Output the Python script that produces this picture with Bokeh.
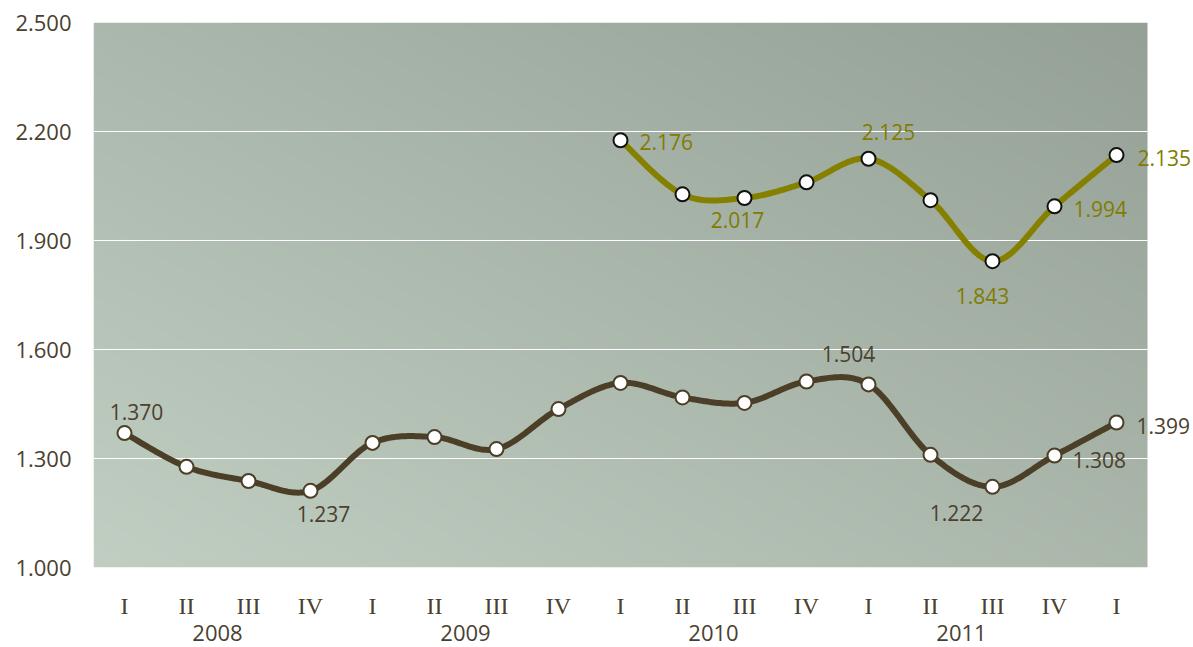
import numpy as np
from bokeh.plotting import figure
from bokeh.models import LinearAxis, FixedTicker, Range1d, Label
from bokeh.embed import file_html
from bokeh.resources import INLINE

# ---------------- data ----------------
quarters = ["I", "II", "III", "IV", "I", "II", "III", "IV", "I", "II", "III", "IV",
            "I", "II", "III", "IV", "I"]
years = ["2008", "2009", "2010", "2011"]
dark_values = [1370, 1277, 1238, 1211, 1343, 1359, 1326, 1436, 1508, 1468, 1453, 1512,
               1504, 1310, 1222, 1308, 1399]
olive_start = 8
olive_values = [2176, 2027, 2017, 2060, 2125, 2011, 1843, 1994, 2135]
y_ticks = [1000, 1300, 1600, 1900, 2200, 2500]
y_tick_labels = ["1.000", "1.300", "1.600", "1.900", "2.200", "2.500"]
dark_label_idx = [0, 3, 12, 14, 15, 16]
dark_label_text = ["1.370", "1.237", "1.504", "1.222", "1.308", "1.399"]
olive_label_idx = [8, 10, 12, 14, 15, 16]
olive_label_text = ["2.176", "2.017", "2.125", "1.843", "1.994", "2.135"]

# ---------------- styles / layout ----------------
DARK = "#4b3f27"
OLIVE = "#858000"
TEXT_DARK = "#4a4030"
TEXT_OLIVE = "#807c00"
SANS = "Open Sans"
SERIF = "Liberation Serif"
W_FIG, H_FIG = 1193, 647
LEFT, TOP, BOTTOM = 93, 22, 80
STEP_PX = 62.0  # pixel width of one category
# label offsets (screen px, +down) and alignment
dark_label_style = [(12, -21, "center"), (13, 23, "center"), (-20, -30, "center"),
                    (-36, 26, "center"), (18, 4, "left"), (20, 3, "left")]
olive_label_style = [(19, 2, "left"), (-7, 22, "center"), (20, -27, "center"),
                     (-10, 35, "center"), (19, 3, "left"), (21, 3, "left")]


def smooth(xs, ys, n=30):
    pts = np.column_stack([xs, ys]).astype(float)
    P = np.vstack([pts[0], pts, pts[-1]])
    out = []
    t = np.linspace(0, 1, n, endpoint=False)[:, None]
    for i in range(1, len(P) - 2):
        p0, p1, p2, p3 = P[i - 1], P[i], P[i + 1], P[i + 2]
        seg = 0.5 * (2 * p1 + (-p0 + p2) * t + (2 * p0 - 5 * p1 + 4 * p2 - p3) * t ** 2
                     + (-p0 + 3 * p1 - 3 * p2 + p3) * t ** 3)
        out.append(seg)
    out.append(pts[-1:])
    a = np.vstack(out)
    return a[:, 0], a[:, 1]


n = len(quarters)
x_all = np.arange(n)
x_olive = np.arange(olive_start, olive_start + len(olive_values))
x_lo, x_hi = -0.5, n - 0.5
x_end = x_lo + (W_FIG - LEFT) / STEP_PX  # frame runs to the right edge so labels are not clipped

p = figure(width=W_FIG, height=H_FIG, output_backend="svg", toolbar_location=None,
           x_range=Range1d(x_lo, x_end), y_range=Range1d(y_ticks[0], y_ticks[-1]),
           min_border_left=LEFT, min_border_right=0, min_border_top=TOP,
           min_border_bottom=BOTTOM)
p.outline_line_color = None
p.border_fill_color = "white"
p.background_fill_color = "white"

# gradient background of the plotting area
H, W = 120, 240
v = np.linspace(0, 1, H)[:, None]
u = np.linspace(0, 1, W)[None, :]
bl = np.array([193, 206, 194], float)
dx = np.array([-22, -23, -23], float)
dy = np.array([-22, -22, -21], float)
rgb = bl[None, None, :] + dx[None, None, :] * u[..., None] + dy[None, None, :] * v[..., None]
img = np.empty((H, W), dtype=np.uint32)
view = img.view(dtype=np.uint8).reshape((H, W, 4))
view[..., 0] = rgb[..., 0].astype(np.uint8)
view[..., 1] = rgb[..., 1].astype(np.uint8)
view[..., 2] = rgb[..., 2].astype(np.uint8)
view[..., 3] = 255
p.image_rgba(image=[img], x=x_lo, y=y_ticks[0], dw=x_hi - x_lo,
             dh=y_ticks[-1] - y_ticks[0], level="image")

# grid lines (only across the plotting area)
p.xgrid.visible = False
p.ygrid.visible = False
gy = y_ticks[1:-1]
p.segment(x0=[x_lo] * len(gy), y0=gy, x1=[x_hi] * len(gy), y1=gy,
          line_color="white", line_width=1)

# y axis
p.yaxis.ticker = FixedTicker(ticks=y_ticks)
p.yaxis.major_label_overrides = {t: l for t, l in zip(y_ticks, y_tick_labels)}
p.yaxis.axis_line_color = None
p.yaxis.major_tick_line_color = None
p.yaxis.minor_tick_line_color = None
p.yaxis.major_label_standoff = 16
p.yaxis.major_label_text_font = SANS
p.yaxis.major_label_text_font_size = "22px"
p.yaxis.major_label_text_color = TEXT_DARK

# x axis (quarters)
p.xaxis.ticker = FixedTicker(ticks=list(range(n)))
p.xaxis.major_label_overrides = {i: q for i, q in enumerate(quarters)}
p.xaxis.axis_line_color = None
p.xaxis.major_tick_line_color = None
p.xaxis.minor_tick_line_color = None
p.xaxis.major_label_standoff = 19
p.xaxis.major_label_text_font = SERIF
p.xaxis.major_label_text_font_size = "24px"
p.xaxis.major_label_text_color = TEXT_DARK

# year axis
year_pos = [4 * k + 1.5 for k in range(len(years))]
yax = LinearAxis(ticker=FixedTicker(ticks=year_pos),
                 major_label_overrides={pos: y for pos, y in zip(year_pos, years)})
yax.axis_line_color = None
yax.major_tick_line_color = None
yax.minor_tick_line_color = None
yax.major_label_standoff = -3
yax.major_label_text_font = SANS
yax.major_label_text_font_size = "22px"
yax.major_label_text_color = TEXT_DARK
p.add_layout(yax, "below")

# lines
sx, sy = smooth(x_all, dark_values)
p.line(sx, sy, line_color=DARK, line_width=6, line_join="round", line_cap="round")
ox, oy = smooth(x_olive, olive_values)
p.line(ox, oy, line_color=OLIVE, line_width=6, line_join="round", line_cap="round")

# markers
p.scatter(x_all, dark_values, size=14, fill_color="white", line_color=DARK, line_width=2)
p.scatter(x_olive, olive_values, size=14, fill_color="white", line_color="#111111", line_width=2)

# labels
for idx, txt, (dxo, dyo, al) in zip(dark_label_idx, dark_label_text, dark_label_style):
    p.add_layout(Label(x=idx, y=dark_values[idx], text=txt, x_offset=dxo, y_offset=-dyo,
                       text_align=al, text_baseline="middle", text_font=SANS,
                       text_font_size="21px", text_color=TEXT_DARK))
for idx, txt, (dxo, dyo, al) in zip(olive_label_idx, olive_label_text, olive_label_style):
    p.add_layout(Label(x=idx, y=olive_values[idx - olive_start], text=txt, x_offset=dxo,
                       y_offset=-dyo, text_align=al, text_baseline="middle", text_font=SANS,
                       text_font_size="21px", text_color=TEXT_OLIVE))

open("out.html", "w").write(file_html(p, INLINE))
